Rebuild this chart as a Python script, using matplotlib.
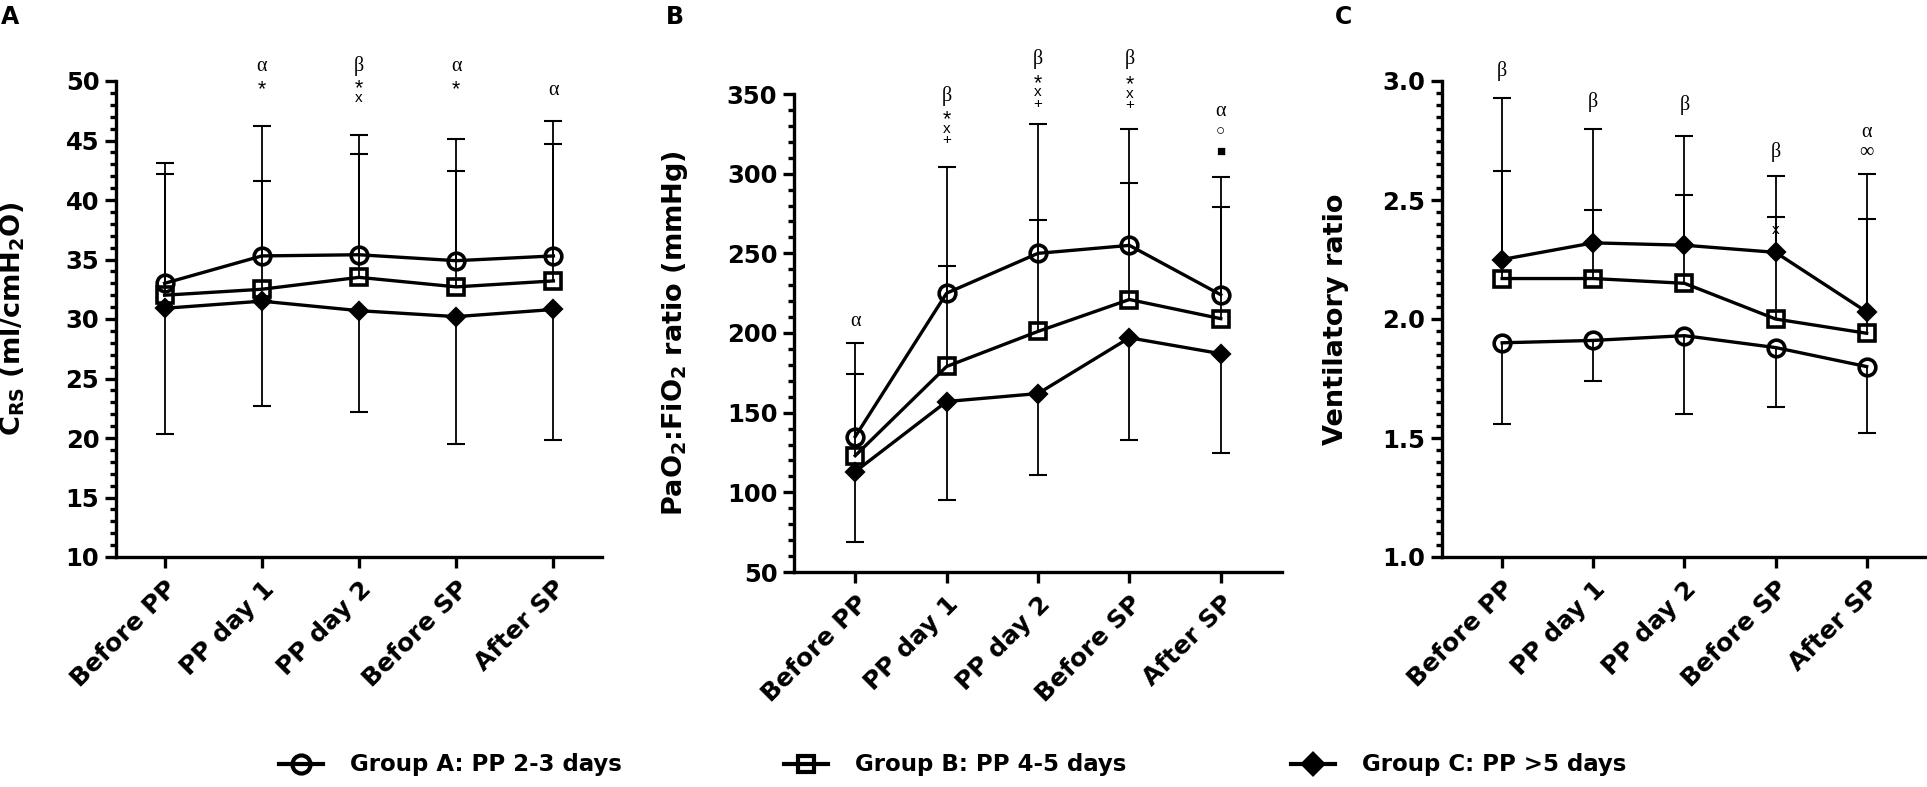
import matplotlib
matplotlib.use("Agg")
import matplotlib.pyplot as plt
from matplotlib.lines import Line2D
from matplotlib.ticker import MultipleLocator, FormatStrFormatter
import numpy as np

# ---------------- data ----------------
categories = ["Before PP", "PP day 1", "PP day 2", "Before SP", "After SP"]
groups = ["Group A: PP 2-3 days", "Group B: PP 4-5 days", "Group C: PP >5 days"]

# Panel A: CRS (ml/cmH2O)
crs_A = [33.0, 35.3, 35.4, 34.9, 35.3]
crs_B = [32.0, 32.5, 33.5, 32.7, 33.2]
crs_C = [30.9, 31.5, 30.7, 30.2, 30.8]
crs_A_top = [43.1, 46.2, 45.5, 45.1, 46.6]
crs_B_top = [42.2, 41.6, 43.9, 42.4, 44.7]
crs_C_bot = [20.3, 22.7, 22.2, 19.5, 19.8]

# Panel B: PaO2:FiO2 ratio (mmHg)
pf_A = [135, 225, 250, 255, 224]
pf_B = [123, 179, 201, 221, 209]
pf_C = [113, 157, 162, 197, 187]
pf_A_top = [194, 304, 331, 328, 298]
pf_B_top = [174, 242, 271, 294, 279]
pf_C_bot = [69, 95, 111, 133, 125]

# Panel C: Ventilatory ratio
vr_A = [1.90, 1.91, 1.93, 1.88, 1.80]
vr_B = [2.17, 2.17, 2.15, 2.00, 1.94]
vr_C = [2.25, 2.32, 2.31, 2.28, 2.03]
vr_A_bot = [1.56, 1.74, 1.60, 1.63, 1.52]
vr_B_top = [2.62, 2.46, 2.52, 2.43, 2.42]
vr_C_top = [2.93, 2.80, 2.77, 2.60, 2.61]

# significance annotations: (category index, y value, text, kind)
notes_A = [(1, 51.2, "α", "g"), (1, 49.5, "*", "a"),
           (2, 51.3, "β", "g"), (2, 49.6, "*", "a"), (2, 48.6, "x", "s"),
           (3, 51.2, "α", "g"), (3, 49.5, "*", "a"),
           (4, 49.2, "α", "g")]
notes_B = [(0, 207, "α", "g"),
           (1, 349, "β", "g"), (1, 335.5, "*", "a"), (1, 328, "x", "s"), (1, 321, "+", "s"),
           (2, 372, "β", "g"), (2, 358.5, "*", "a"), (2, 351, "x", "s"), (2, 344, "+", "s"),
           (3, 372, "β", "g"), (3, 357.5, "*", "a"), (3, 350, "x", "s"), (3, 343, "+", "s"),
           (4, 339, "α", "g"), (4, 327, "○", "s"), (4, 314, "■", "s")]
notes_C = [(0, 3.04, "β", "g"), (1, 2.91, "β", "g"), (2, 2.90, "β", "g"),
           (3, 2.70, "β", "g"), (3, 2.375, "x", "s"),
           (4, 2.785, "α", "g"), (4, 2.70, "∞", "g")]

# ---------------- style ----------------
plt.rcParams["font.family"] = ["DejaVu Sans"]
plt.rcParams["font.weight"] = "bold"
plt.rcParams["mathtext.fontset"] = "dejavusans"
plt.rcParams["mathtext.default"] = "bf"

W, H = 1927, 787
fig = plt.figure(figsize=(W / 100, H / 100), dpi=100)

LW = 2.4     # axes / data line width
MEW = 2.6    # marker edge width

def add_ax(l, r, t, b):
    return fig.add_axes([l / W, 1 - b / H, (r - l) / W, (b - t) / H])

def style_ax(ax, ylim, major, minor, xlim, ylabel, labx, fmt):
    ax.set_ylim(*ylim)
    ax.set_xlim(*xlim)
    for s in ["top", "right"]:
        ax.spines[s].set_visible(False)
    for s in ["left", "bottom"]:
        ax.spines[s].set_linewidth(LW)
    ax.yaxis.set_major_locator(MultipleLocator(major))
    ax.yaxis.set_minor_locator(MultipleLocator(minor))
    ax.yaxis.set_major_formatter(FormatStrFormatter(fmt))
    ax.set_xticks(range(len(categories)))
    ax.set_xticklabels(categories, rotation=45, ha="right", va="top",
                       rotation_mode="anchor", fontsize=18, fontweight="bold")
    ax.tick_params(axis="both", which="major", direction="out", length=8, width=LW,
                   labelsize=17.5, pad=4)
    ax.tick_params(axis="y", which="minor", direction="out", length=4.5, width=LW)
    ax.tick_params(axis="x", which="major", pad=6, labelsize=18)
    for lab in ax.get_yticklabels():
        lab.set_fontweight("bold")
    ax.set_ylabel(ylabel, fontsize=19.5, fontweight="bold")
    ax.yaxis.set_label_coords(labx, 0.5)

def draw_group(ax, means, ends, marker, ms, fill):
    x = np.arange(len(means))
    means = np.array(means, float)
    ends = np.array(ends, float)
    lo = np.where(ends < means, means - ends, 0)
    hi = np.where(ends > means, ends - means, 0)
    ax.errorbar(x, means, yerr=[lo, hi], fmt="none", ecolor="black",
                elinewidth=1.3, capsize=0, zorder=2)
    ax.plot(x, ends, ls="none", marker="_", ms=13, mew=1.5, color="black", zorder=2)
    ax.plot(x, means, color="black", lw=LW, marker=marker, ms=ms, mew=MEW,
            mfc=("black" if fill else "none"), mec="black", zorder=3)

def annotate(ax, notes):
    span = ax.get_ylim()[1] - ax.get_ylim()[0]
    for i, y, t, kind in notes:
        if kind == "g":
            ax.text(i, y, t, ha="center", va="center", fontsize=14.5, fontweight="normal",
                    family=["Liberation Serif", "DejaVu Serif"], clip_on=False)
        elif kind == "a":
            ax.text(i, y - span * 0.006, t,
                    ha="center", va="center", fontsize=15.5, fontweight="normal",
                    family=["Liberation Sans", "DejaVu Sans"], clip_on=False)
        else:
            ax.text(i, y, t, ha="center", va="center", fontsize=11, fontweight="normal",
                    family=["Liberation Sans", "DejaVu Sans"], clip_on=False)

# Panel A
axA = add_ax(116, 602, 81, 557)
style_ax(axA, (10, 50), 5, 1, (-0.5, 4.5), r"C$_{RS}$ (ml/cmH$_2$O)", (27 - 116) / 486, "%d")
draw_group(axA, crs_A, crs_A_top, "o", 12, False)
draw_group(axA, crs_B, crs_B_top, "s", 11, False)
draw_group(axA, crs_C, crs_C_bot, "D", 8.5, True)
annotate(axA, notes_A)

# Panel B
axB = add_ax(794, 1282, 94, 572)
style_ax(axB, (50, 350), 50, 10, (-0.67, 4.67), r"PaO$_2$:FiO$_2$ ratio (mmHg)", (690 - 794) / 488, "%d")
draw_group(axB, pf_A, pf_A_top, "o", 12, False)
draw_group(axB, pf_B, pf_B_top, "s", 11, False)
draw_group(axB, pf_C, pf_C_bot, "D", 8.5, True)
annotate(axB, notes_B)

# Panel C
axC = add_ax(1442, 1925, 81, 557)
style_ax(axC, (1.0, 3.0), 0.5, 0.05, (-0.66, 4.64), "Ventilatory ratio", (1349 - 1442) / 483, "%.1f")
draw_group(axC, vr_A, vr_A_bot, "o", 12, False)
draw_group(axC, vr_B, vr_B_top, "s", 11, False)
draw_group(axC, vr_C, vr_C_top, "D", 8.5, True)
annotate(axC, notes_C)

# panel letters
for x, t in [(10, "A"), (675, "B"), (1343, "C")]:
    fig.text(x / W, 1 - 17 / H, t, fontsize=17, fontweight="bold", ha="center", va="center")

# legend (drawn manually)
leg_y = 1 - 764 / H
for cx, mk, ms, fill, label in [(301, "o", 13, False, groups[0]),
                                (806, "s", 12, False, groups[1]),
                                (1313, "D", 10, True, groups[2])]:
    fig.add_artist(Line2D([(cx - 22) / W, (cx + 22) / W], [leg_y, leg_y],
                          transform=fig.transFigure, color="black", lw=3.0))
    fig.add_artist(Line2D([cx / W], [leg_y], transform=fig.transFigure, ls="none",
                          marker=mk, ms=ms, mew=3.0, mec="black",
                          mfc=("black" if fill else "none")))
    fig.text((cx + 49) / W, leg_y, label, fontsize=16.5, fontweight="bold",
             ha="left", va="center")

fig.savefig("out.png", dpi=100)
